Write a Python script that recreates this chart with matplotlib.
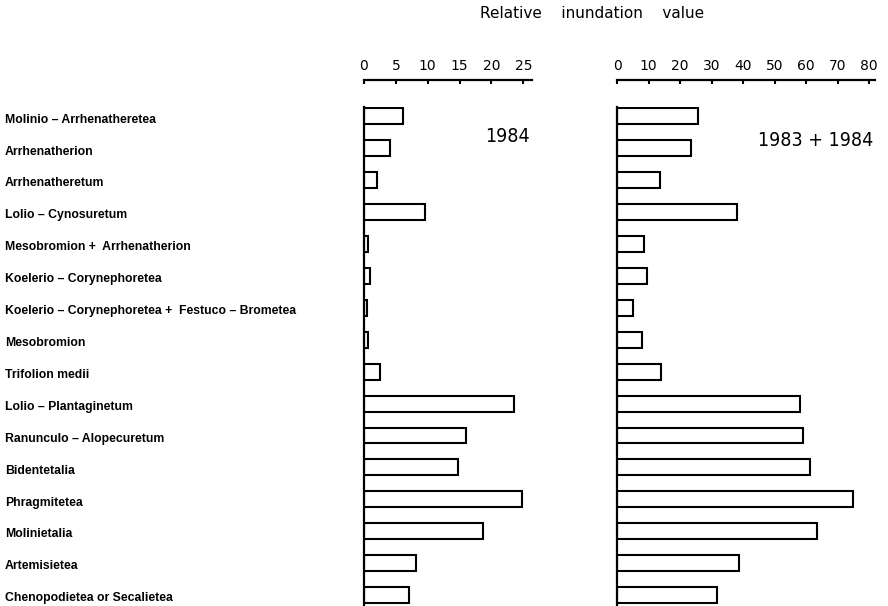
import numpy as np
import matplotlib
matplotlib.use("Agg")
import matplotlib.pyplot as plt
from matplotlib.transforms import blended_transform_factory

communities = [
    "Molinio – Arrhenatheretea",
    "Arrhenatherion",
    "Arrhenatheretum",
    "Lolio – Cynosuretum",
    "Mesobromion +  Arrhenatherion",
    "Koelerio – Corynephoretea",
    "Koelerio – Corynephoretea +  Festuco – Brometea",
    "Mesobromion",
    "Trifolion medii",
    "Lolio – Plantaginetum",
    "Ranunculo – Alopecuretum",
    "Bidentetalia",
    "Phragmitetea",
    "Molinietalia",
    "Artemisietea",
    "Chenopodietea or Secalietea",
]
inund_1984 = [6.2, 4.1, 2.0, 9.6, 0.6, 1.0, 0.4, 0.7, 2.5, 23.5, 16.0, 14.8, 24.8, 18.7, 8.1, 7.0]
inund_8384 = [25.8, 23.4, 13.7, 38.2, 8.6, 9.4, 5.1, 8.0, 13.9, 58.1, 59.0, 61.3, 75.0, 63.4, 38.7, 31.8]
ticks_1984 = [0, 5, 10, 15, 20, 25]
ticks_8384 = [0, 10, 20, 30, 40, 50, 60, 70, 80]

W, H = 888, 606
fig = plt.figure(figsize=(W / 100, H / 100), dpi=100)

def panel(left_px, xmax, values, ticks, px_per_unit):
    width = xmax * px_per_unit
    ax = fig.add_axes([left_px / W, 0.0023, width / W, 0.8213])
    y = np.arange(len(values))
    ax.barh(y, values, height=0.5, color="white", edgecolor="black", linewidth=1.5)
    ax.set_ylim(15.3, -0.3)
    ax.set_xlim(0, xmax)
    ax.set_yticks([])
    for s in ["right", "bottom"]:
        ax.spines[s].set_visible(False)
    ax.spines["left"].set_linewidth(1.6)
    ax.spines["top"].set_linewidth(1.6)
    ax.spines["top"].set_position(("outward", 19.7))
    ax.xaxis.set_ticks_position("top")
    ax.set_xticks(ticks)
    ax.tick_params(axis="x", direction="in", length=3, width=1.5, pad=5,
                   labelsize=10)
    return ax

ax1 = panel(364, 26.4, inund_1984, ticks_1984, 6.37)
ax2 = panel(617, 82.0, inund_8384, ticks_8384, 3.15)

# community names down the left side, lined up with the bars
trans = blended_transform_factory(fig.transFigure, ax1.transData)
for i, name in enumerate(communities):
    fig.text(5 / W, i + 0.1, name, transform=trans, ha="left", va="center",
             fontsize=8.8, fontweight="bold", family="Liberation Sans")

fig.text(592 / W, 1 - 14 / H, "Relative    inundation    value",
         ha="center", va="center", fontsize=11)
fig.text(507 / W, 1 - 136 / H, "1984", ha="center", va="center", fontsize=14,
         family="DejaVu Sans", fontstretch="condensed")
fig.text(816 / W, 1 - 140 / H, "1983 + 1984", ha="center", va="center",
         fontsize=14, family="DejaVu Sans", fontstretch="condensed")

fig.savefig("out.png", dpi=100)
